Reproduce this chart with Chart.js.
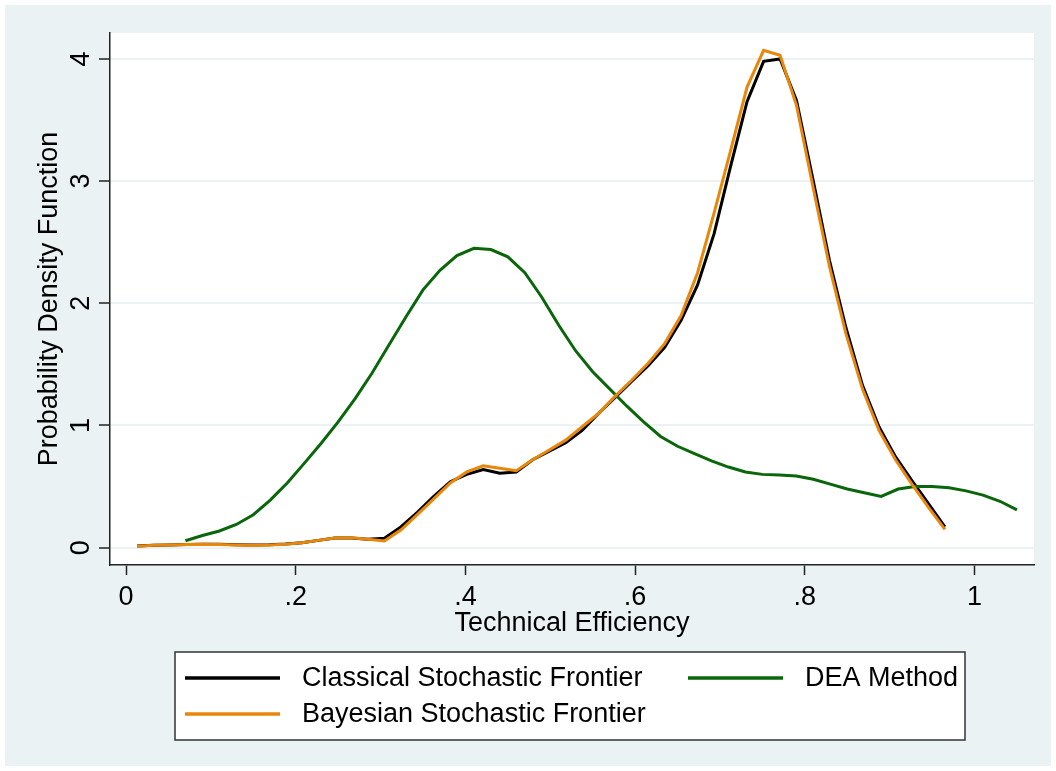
<!DOCTYPE html>
<html>
<head>
<meta charset="utf-8">
<title>Technical efficiency densities</title>
<script src="https://cdn.jsdelivr.net/npm/chart.js@4.4.1/dist/chart.umd.min.js"></script>
<style>
  html, body { margin: 0; padding: 0; background: #fff; }
  #wrap { width: 1056px; height: 771px; }
</style>
</head>
<body>
<div id="wrap"><canvas id="densities" width="1056" height="771"></canvas></div>
<script>
var xTicks = [0, 0.2, 0.4, 0.6, 0.8, 1];
var xTickLabels = ['0', '.2', '.4', '.6', '.8', '1'];
var yTicks = [0, 1, 2, 3, 4];
var yTickLabels = ['0', '1', '2', '3', '4'];

// evaluation grid of the two frontier densities
var sfaX = [0.013, 0.0324, 0.0519, 0.0713, 0.0907, 0.1102, 0.1296, 0.1490, 0.1684, 0.1879,
  0.2073, 0.2267, 0.2462, 0.2656, 0.2850, 0.3045, 0.3239, 0.3433, 0.3627, 0.3822,
  0.4016, 0.4210, 0.4405, 0.4599, 0.4793, 0.4988, 0.5182, 0.5376, 0.5571, 0.5765,
  0.5959, 0.6153, 0.6348, 0.6542, 0.6736, 0.6931, 0.7125, 0.7319, 0.7514, 0.7708,
  0.7902, 0.8097, 0.8291, 0.8485, 0.8679, 0.8874, 0.9068, 0.9262, 0.9457, 0.9651];
var classicalY = [0.014, 0.02, 0.022, 0.026, 0.028, 0.028, 0.024, 0.022, 0.024, 0.03,
  0.04, 0.06, 0.08, 0.08, 0.07, 0.077, 0.17, 0.29, 0.42, 0.54,
  0.60, 0.64, 0.61, 0.62, 0.72, 0.79, 0.86, 0.96, 1.10, 1.23,
  1.36, 1.49, 1.64, 1.86, 2.15, 2.57, 3.12, 3.65, 3.98, 4.00,
  3.66, 3.01, 2.35, 1.80, 1.33, 0.99, 0.745, 0.55, 0.36, 0.17];
var bayesianY = [0.012, 0.02, 0.022, 0.026, 0.028, 0.026, 0.022, 0.02, 0.022, 0.028,
  0.04, 0.06, 0.08, 0.082, 0.07, 0.055, 0.145, 0.27, 0.40, 0.53,
  0.62, 0.67, 0.65, 0.63, 0.72, 0.80, 0.88, 0.99, 1.10, 1.24,
  1.37, 1.51, 1.67, 1.90, 2.25, 2.74, 3.25, 3.77, 4.07, 4.03,
  3.62, 2.95, 2.30, 1.75, 1.30, 0.96, 0.72, 0.52, 0.33, 0.15];

// DEA density grid
var deaX = [0.07, 0.09, 0.11, 0.13, 0.15, 0.17, 0.19, 0.21, 0.23, 0.25,
  0.27, 0.29, 0.31, 0.33, 0.35, 0.37, 0.39, 0.41, 0.43, 0.45,
  0.47, 0.49, 0.51, 0.53, 0.55, 0.57, 0.59, 0.61, 0.63, 0.65,
  0.67, 0.69, 0.71, 0.73, 0.75, 0.77, 0.79, 0.81, 0.83, 0.85,
  0.87, 0.89, 0.91, 0.93, 0.95, 0.97, 0.99, 1.01, 1.03, 1.05];
var deaY = [0.057, 0.10, 0.137, 0.19, 0.27, 0.39, 0.53, 0.69, 0.855, 1.03,
  1.22, 1.43, 1.66, 1.89, 2.11, 2.27, 2.39, 2.45, 2.44, 2.38,
  2.25, 2.05, 1.82, 1.61, 1.44, 1.30, 1.16, 1.03, 0.91, 0.83,
  0.77, 0.71, 0.66, 0.62, 0.60, 0.595, 0.587, 0.56, 0.52, 0.48,
  0.45, 0.42, 0.48, 0.50, 0.50, 0.49, 0.465, 0.43, 0.38, 0.31];

var FONT = "'Liberation Sans', Arial, Helvetica, sans-serif";
var BG = '#EAF2F3';
var AXIS = '#222222';

function pts(xs, ys) {
  return xs.map(function(x, i) { return {x: x, y: ys[i]}; });
}

// stata-ish frame: grey page, white plot region
var backdrop = {
  id: 'backdrop',
  beforeDraw: function(chart) {
    var ctx = chart.ctx, a = chart.chartArea;
    ctx.save();
    ctx.fillStyle = '#fff';
    ctx.fillRect(0, 0, chart.width, chart.height);
    ctx.fillStyle = BG;
    ctx.fillRect(5, 5, chart.width - 10, chart.height - 10);
    ctx.fillStyle = '#fff';
    ctx.fillRect(a.left, a.top, a.right - a.left, a.bottom - a.top);
    ctx.restore();
  }
};

// vertical y tick labels, like the original
var yLabels = {
  id: 'yLabels',
  afterDraw: function(chart) {
    var ctx = chart.ctx, scale = chart.scales.y;
    ctx.save();
    ctx.font = '27px ' + FONT;
    ctx.fillStyle = '#000';
    ctx.textAlign = 'center';
    ctx.textBaseline = 'middle';
    yTicks.forEach(function(v, i) {
      ctx.save();
      ctx.translate(82, scale.getPixelForValue(v));
      ctx.rotate(-Math.PI / 2);
      ctx.fillText(yTickLabels[i], 0, 0);
      ctx.restore();
    });
    ctx.restore();
  }
};

// boxed two-column legend under the axis title
var boxLegend = {
  id: 'boxLegend',
  afterDraw: function(chart) {
    var ctx = chart.ctx;
    var slots = [[185, 678], [688, 678], [185, 714]];
    ctx.save();
    ctx.fillStyle = '#fff';
    ctx.fillRect(175, 652, 790, 88);
    ctx.strokeStyle = '#333';
    ctx.lineWidth = 1.5;
    ctx.strokeRect(175, 652, 790, 88);
    ctx.font = '27px ' + FONT;
    ctx.textBaseline = 'middle';
    ctx.textAlign = 'left';
    chart.data.datasets.forEach(function(ds, i) {
      var s = slots[i];
      ctx.strokeStyle = ds.borderColor;
      ctx.lineWidth = 3.5;
      ctx.beginPath();
      ctx.moveTo(s[0], s[1]);
      ctx.lineTo(s[0] + 95, s[1]);
      ctx.stroke();
      ctx.fillStyle = '#000';
      ctx.fillText(ds.label, s[0] + 117, s[1] + 1);
    });
    ctx.restore();
  }
};

var config = {
  type: 'line',
  data: {
    datasets: [{
      label: 'Classical Stochastic Frontier',
      data: pts(sfaX, classicalY),
      borderColor: '#000000',
      borderWidth: 3,
      order: 3
    }, {
      label: 'DEA Method',
      data: pts(deaX, deaY),
      borderColor: '#0A660A',
      borderWidth: 3,
      order: 2
    }, {
      label: 'Bayesian Stochastic Frontier',
      data: pts(sfaX, bayesianY),
      borderColor: '#E8870A',
      borderWidth: 3,
      order: 1
    }]
  },
  options: {
    responsive: false,
    animation: false,
    devicePixelRatio: 1,
    layout: {padding: {left: 0, top: 33, right: 22, bottom: 0}},
    elements: {
      point: {radius: 0, hoverRadius: 0},
      line: {tension: 0, fill: false}
    },
    plugins: {
      legend: {display: false},
      tooltip: {enabled: false}
    },
    scales: {
      x: {
        type: 'linear',
        min: -0.0189,
        max: 1.0701,
        afterFit: function(s) { s.height = 206; },
        afterBuildTicks: function(s) { s.ticks = xTicks.map(function(v) { return {value: v}; }); },
        grid: {drawOnChartArea: false, drawTicks: true, tickLength: 10, tickColor: AXIS, tickWidth: 1.5},
        border: {display: true, color: AXIS, width: 1.5},
        ticks: {
          padding: 6,
          color: '#000',
          font: {family: FONT, size: 27},
          maxRotation: 0,
          callback: function(v) { var i = xTicks.indexOf(v); return i < 0 ? '' : xTickLabels[i]; }
        },
        title: {
          display: true,
          text: 'Technical Efficiency',
          color: '#000',
          font: {family: FONT, size: 27, lineHeight: 1},
          padding: {top: 0, bottom: 133.5}
        }
      },
      y: {
        min: -0.1416,
        max: 4.212,
        afterFit: function(s) { s.width = 110; },
        afterBuildTicks: function(s) { s.ticks = yTicks.map(function(v) { return {value: v}; }); },
        grid: {color: BG, lineWidth: 2, drawTicks: true, tickLength: 11, tickColor: AXIS, tickWidth: 1.5},
        border: {display: true, color: AXIS, width: 1.5},
        ticks: {display: false},
        title: {
          display: true,
          text: 'Probability Density Function',
          color: '#000',
          font: {family: FONT, size: 27, lineHeight: 1},
          padding: {top: 36.5, bottom: 0}
        }
      }
    }
  },
  plugins: [backdrop, yLabels, boxLegend]
};

var ctx = document.getElementById('densities').getContext('2d');
window.chart = new Chart(ctx, config);
</script>
</body>
</html>
